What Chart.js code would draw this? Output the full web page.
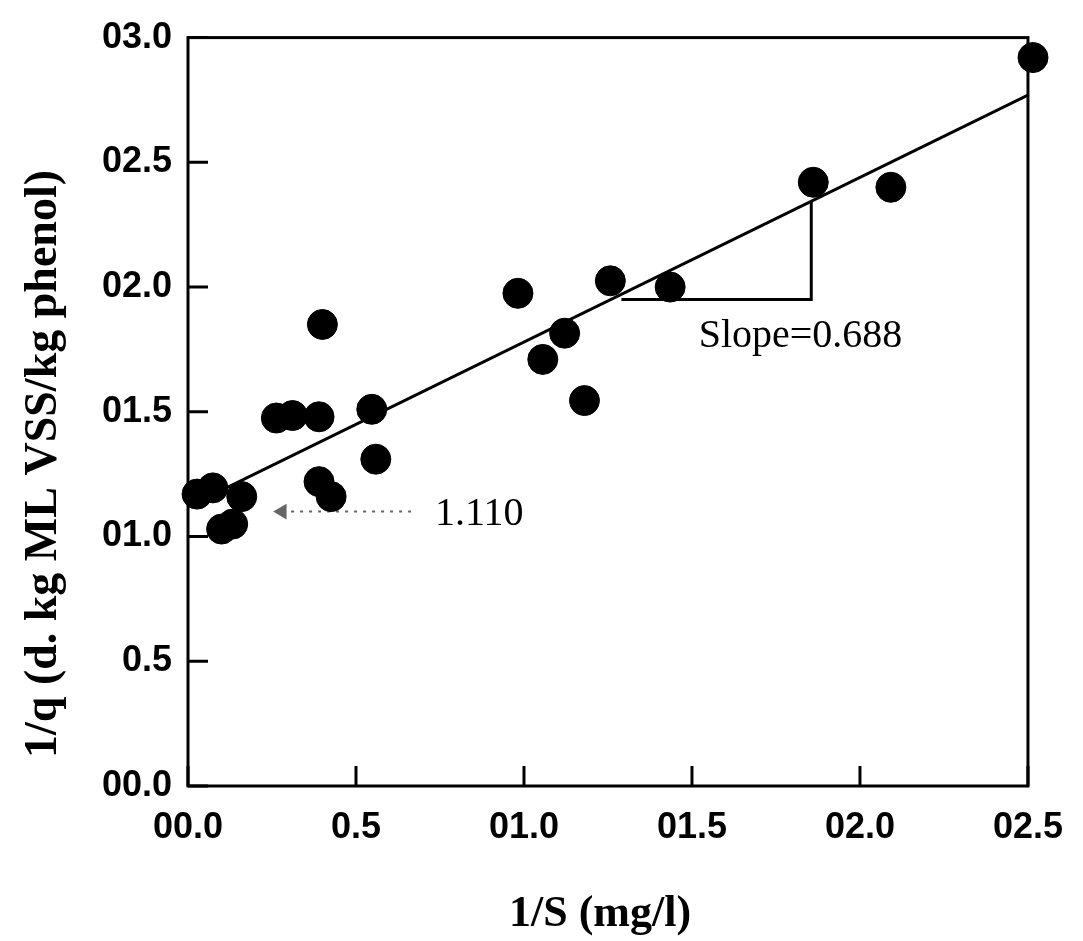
<!DOCTYPE html>
<html>
<head>
<meta charset="utf-8">
<script src="https://cdn.jsdelivr.net/npm/chart.js@4.4.1/dist/chart.umd.min.js"></script>
<style>
  body { margin: 0; background: #fff; }
</style>
</head>
<body>
<canvas id="myChart" width="1083" height="941"></canvas>
<script>
// measured points, 1/S vs 1/q
var xValues = [0.027, 0.074, 0.16, 0.10, 0.133, 0.263, 0.311, 0.39, 0.40, 0.39, 0.426,
               0.547, 0.559, 0.982, 1.056, 1.121, 1.18, 1.257, 1.435, 1.861, 2.092, 2.515];
var yValues = [1.17, 1.195, 1.16, 1.03, 1.05, 1.475, 1.485, 1.48, 1.85, 1.22, 1.16,
               1.51, 1.31, 1.975, 1.71, 1.815, 1.545, 2.025, 2.0, 2.42, 2.40, 2.92];

// fitted line
var fitX = [0, 2.5];
var fitY = [1.12, 2.77];

// slope triangle
var slopeX = [1.29, 1.855, 1.855];
var slopeY = [1.95, 1.95, 2.345];

// intercept arrow
var arrowX = [0.28, 0.68];
var arrowY = [1.10, 1.10];

var xTickLabels = ["00.0", "0.5", "01.0", "01.5", "02.0", "02.5"];
var yTickLabels = ["00.0", "0.5", "01.0", "01.5", "02.0", "02.5", "03.0"];

function pts(xs, ys) {
  return xs.map(function (x, i) { return { x: x, y: ys[i] }; });
}

var boxPlugin = {
  id: 'box',
  beforeDatasetsDraw: function (chart) {
    var ctx = chart.ctx, a = chart.chartArea;
    var xs = chart.scales.x, ys = chart.scales.y;
    ctx.save();
    ctx.strokeStyle = '#000';
    ctx.lineWidth = 3;
    ctx.strokeRect(a.left, a.top, a.right - a.left, a.bottom - a.top);
    ctx.beginPath();
    xs.ticks.forEach(function (t) {
      var px = xs.getPixelForValue(t.value);
      ctx.moveTo(px, a.bottom);
      ctx.lineTo(px, a.bottom - 20);
    });
    ys.ticks.forEach(function (t) {
      var py = ys.getPixelForValue(t.value);
      ctx.moveTo(a.left, py);
      ctx.lineTo(a.left + 20, py);
    });
    ctx.stroke();
    ctx.restore();
  },
  afterDraw: function (chart) {
    var ctx = chart.ctx, a = chart.chartArea;
    var xs = chart.scales.x, ys = chart.scales.y;
    ctx.save();
    ctx.fillStyle = '#000';
    ctx.textBaseline = 'middle';
    ctx.textAlign = 'left';
    ctx.font = '40px "Liberation Serif", serif';
    ctx.fillText('Slope=0.688', xs.getPixelForValue(1.52), ys.getPixelForValue(1.8));
    ctx.fillText('1.110', xs.getPixelForValue(0.735), ys.getPixelForValue(1.09));

    ctx.textAlign = 'center';
    ctx.font = 'bold 44px "Liberation Serif", serif';
    ctx.fillText('1/S (mg/l)', 600, 915);

    ctx.translate(44, 464);
    ctx.rotate(-Math.PI / 2);
    ctx.font = 'bold 46px "Liberation Serif", serif';
    ctx.fillText('1/q (d. kg ML VSS/kg phenol)', 0, 0);
    ctx.restore();
  }
};

new Chart("myChart", {
  type: "scatter",
  data: {
    datasets: [{
      data: pts(xValues, yValues),
      backgroundColor: "#000",
      borderColor: "#000",
      pointRadius: 15,
      pointHoverRadius: 15,
      clip: false
    }, {
      type: "line",
      data: pts(fitX, fitY),
      borderColor: "#000",
      borderWidth: 3,
      pointRadius: 0,
      fill: false
    }, {
      type: "line",
      data: pts(slopeX, slopeY),
      borderColor: "#000",
      borderWidth: 3,
      pointRadius: 0,
      fill: false
    }, {
      type: "line",
      data: pts(arrowX, arrowY),
      borderColor: "#666",
      backgroundColor: "#666",
      borderWidth: 2,
      borderDash: [3, 6],
      pointStyle: "triangle",
      rotation: -90,
      pointRadius: [7, 0],
      fill: false
    }]
  },
  options: {
    responsive: false,
    animation: false,
    layout: { padding: { top: 33, right: 50, left: 0, bottom: 0 } },
    plugins: {
      legend: { display: false },
      tooltip: { enabled: false }
    },
    scales: {
      x: {
        type: "linear",
        min: 0,
        max: 2.5,
        grid: { display: false, drawTicks: false },
        border: { display: false },
        ticks: {
          stepSize: 0.5,
          padding: 20,
          color: "#000",
          font: { family: '"Liberation Sans", Arial, sans-serif', size: 36, weight: "bold" },
          callback: function (v, i) { return xTickLabels[i]; }
        },
        afterFit: function (s) { s.height = 155; }
      },
      y: {
        min: 0,
        max: 3,
        grid: { display: false, drawTicks: false },
        border: { display: false },
        ticks: {
          stepSize: 0.5,
          padding: 16,
          color: "#000",
          font: { family: '"Liberation Sans", Arial, sans-serif', size: 36, weight: "bold" },
          callback: function (v, i) { return yTickLabels[i]; }
        },
        afterFit: function (s) { s.width = 188; }
      }
    }
  },
  plugins: [boxPlugin]
});
</script>
</body>
</html>
